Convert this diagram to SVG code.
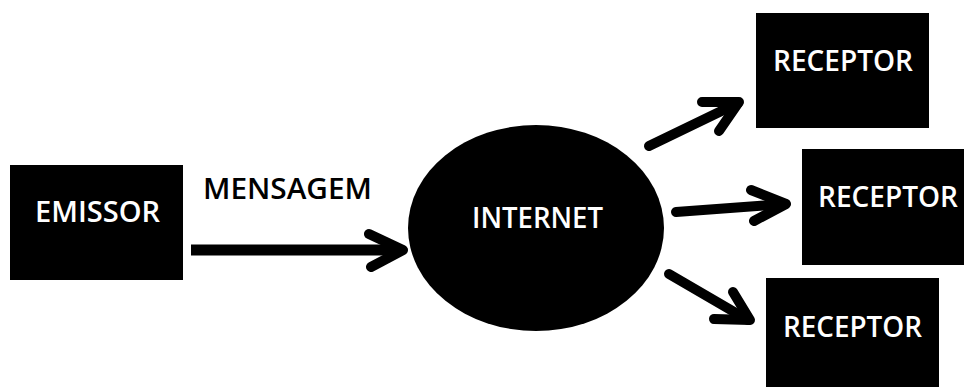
<svg xmlns="http://www.w3.org/2000/svg" width="964" height="387" viewBox="0 0 964 387">
<style>
.box{fill:#000}
.lbl{font-family:"Open Sans","Liberation Sans",sans-serif;font-size:28px;font-weight:600;fill:#fff}
.dark{fill:#000}
.ln{fill:none;stroke:#000;stroke-width:10;stroke-linejoin:round;stroke-linecap:round}
</style>
<rect width="964" height="387" fill="#fff"/>
<g id="emissor">
<rect class="box" x="10" y="165" width="173" height="115"/>
<text class="lbl" x="35" y="222" textLength="125" lengthAdjust="spacingAndGlyphs">EMISSOR</text>
</g>
<g id="internet">
<ellipse class="box" cx="536" cy="228" rx="128" ry="103"/>
<text class="lbl" x="472" y="228" textLength="131" lengthAdjust="spacingAndGlyphs">INTERNET</text>
</g>
<g id="receptor1">
<rect class="box" x="756" y="13" width="173" height="115"/>
<text class="lbl" x="773" y="71" textLength="140" lengthAdjust="spacingAndGlyphs">RECEPTOR</text>
</g>
<g id="receptor2">
<rect class="box" x="802" y="149" width="162" height="116"/>
<text class="lbl" x="818" y="207" textLength="140" lengthAdjust="spacingAndGlyphs">RECEPTOR</text>
</g>
<g id="receptor3">
<rect class="box" x="766" y="278" width="173" height="109"/>
<text class="lbl" x="783" y="337" textLength="139" lengthAdjust="spacingAndGlyphs">RECEPTOR</text>
</g>
<g id="connectors">
<line x1="191" y1="250" x2="402" y2="250" stroke="#000" stroke-width="11"/>
<polyline class="ln" points="369,234 403,250 371,267"/>
<text class="lbl dark" x="203" y="199" textLength="169" lengthAdjust="spacingAndGlyphs">MENSAGEM</text>
<line class="ln" x1="649" y1="146" x2="738" y2="103"/>
<polyline class="ln" points="702,102 739,102 719,131"/>
<line class="ln" x1="676" y1="212" x2="785" y2="204"/>
<polyline class="ln" points="751,190 786,204 754,221"/>
<line class="ln" x1="669" y1="274" x2="748" y2="320"/>
<polyline class="ln" points="733,292 750,320 714,319"/>
</g>
</svg>
